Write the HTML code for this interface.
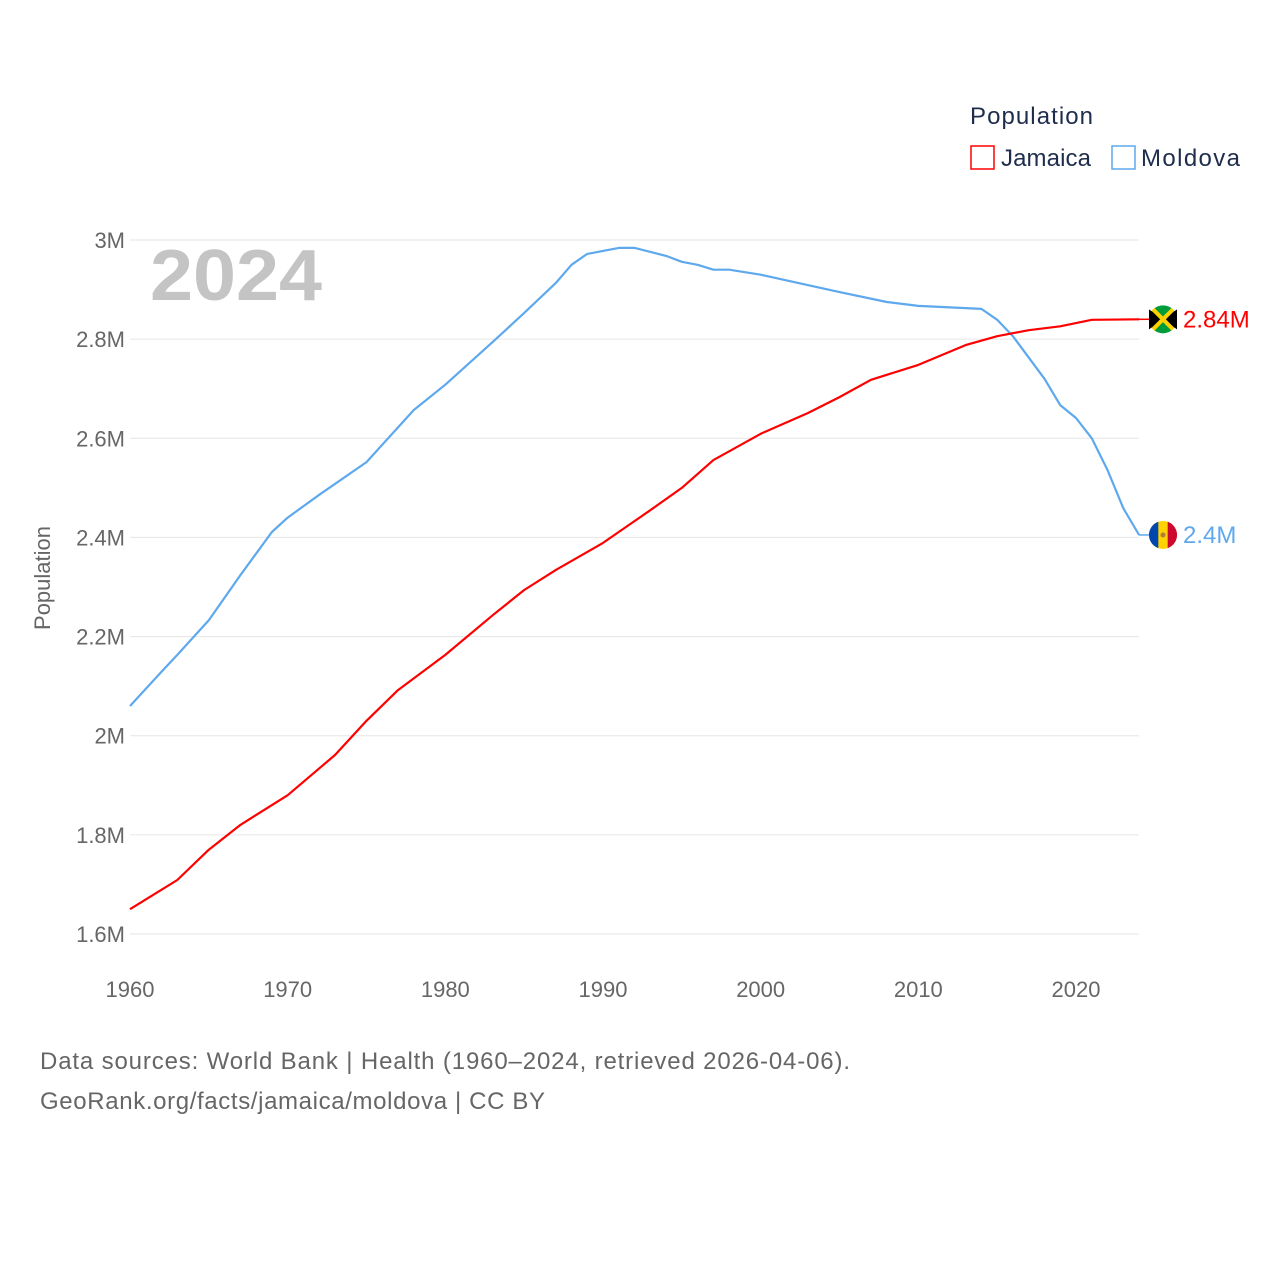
<!DOCTYPE html>
<html><head><meta charset="utf-8"><style>
body{margin:0;background:#fff;font-family:"Liberation Sans",sans-serif}
svg text{font-family:"Liberation Sans",sans-serif}
</style></head><body>
<svg id="chart" width="1280" height="1280" viewBox="0 0 1280 1280">
<g id="grid"></g>
<g id="yticks"></g>
<g id="xticks"></g>
<text x="150" y="300" font-size="72" font-weight="bold" fill="#c4c4c4" textLength="172" lengthAdjust="spacingAndGlyphs">2024</text>
<text transform="translate(50,578) rotate(-90)" text-anchor="middle" font-size="22" fill="#666">Population</text>
<g id="series"></g>
<text x="970" y="124" font-size="24" fill="#1f2d4d" textLength="123">Population</text>
<g><rect x="971" y="146" width="23" height="23" fill="none" stroke="#ff0000" stroke-width="1.5"/><text x="1001" y="166" font-size="24" fill="#1f2d4d" textLength="90">Jamaica</text></g>
<g><rect x="1112" y="146" width="23" height="23" fill="none" stroke="#5ea8ee" stroke-width="1.5"/><text x="1141" y="166" font-size="24" fill="#1f2d4d" textLength="99">Moldova</text></g>
<text x="40" y="1069" font-size="24" fill="#666" textLength="810">Data sources: World Bank | Health (1960–2024, retrieved 2026-04-06).</text>
<text x="40" y="1109" font-size="24" fill="#666" textLength="505">GeoRank.org/facts/jamaica/moldova | CC BY</text>
</svg>
<script>
const jamYears=[1960,1963,1965,1967,1970,1973,1975,1977,1980,1983,1985,1987,1990,1993,1995,1997,2000,2003,2005,2007,2010,2013,2015,2017,2019,2021,2024];
const jamVals=[1.65,1.709,1.77,1.82,1.88,1.961,2.03,2.092,2.163,2.243,2.294,2.334,2.389,2.455,2.50,2.556,2.609,2.651,2.683,2.718,2.748,2.788,2.806,2.818,2.826,2.839,2.84];
const molYears=[1960,1962,1963,1965,1967,1969,1970,1972,1975,1978,1980,1983,1985,1987,1988,1989,1991,1992,1994,1995,1996,1997,1998,2000,2005,2008,2010,2014,2015,2016,2018,2019,2020,2021,2022,2023,2024];
const molVals=[2.06,2.129,2.163,2.233,2.324,2.411,2.44,2.486,2.552,2.657,2.708,2.794,2.853,2.913,2.95,2.972,2.984,2.984,2.968,2.956,2.95,2.94,2.94,2.93,2.895,2.875,2.867,2.861,2.839,2.806,2.72,2.667,2.641,2.60,2.536,2.459,2.405];
const yTicks=[1.6,1.8,2.0,2.2,2.4,2.6,2.8,3.0];
const yLabels=["1.6M","1.8M","2M","2.2M","2.4M","2.6M","2.8M","3M"];
const xTicks=[1960,1970,1980,1990,2000,2010,2020];
const X=y=>130+(y-1960)*(1076-130)/60;
const Y=v=>934-(v-1.6)*(934-240)/1.4;
const NS="http://www.w3.org/2000/svg";
function mk(t,a,p){const e=document.createElementNS(NS,t);for(const k in a)e.setAttribute(k,a[k]);p.appendChild(e);return e;}
const grid=document.getElementById('grid'),yt=document.getElementById('yticks'),xt=document.getElementById('xticks'),ser=document.getElementById('series');
yTicks.forEach((v,i)=>{
 const l=mk('line',{x1:130,x2:1139,y1:Y(v),y2:Y(v),stroke:'#e6e6e6','stroke-width':1},grid);
 
 
 const t=mk('text',{x:125,y:Y(v)+8,'text-anchor':'end','font-size':22,fill:'#666'},yt);t.textContent=yLabels[i];
 
 
});
xTicks.forEach(v=>{
 const t=mk('text',{x:X(v),y:997,'text-anchor':'middle','font-size':22,fill:'#666'},xt);t.textContent=v;
 
 
});
function line(ys,vs,c,name){
 const d=ys.map((y,i)=>(i?'L':'M')+X(y).toFixed(1)+','+Y(vs[i]).toFixed(1)).join('');
 const p=mk('path',{d:d,fill:'none',stroke:c,'stroke-width':2.2,'stroke-linejoin':'round'},ser);
 
 
}
line(molYears,molVals,'#5ea8ee','moldova-line');
line(jamYears,jamVals,'#ff0000','jamaica-line');
function flag(v,c,label,name,kind){
 const y=Y(v),g=mk('g',{},ser);
 
 
 mk('line',{x1:1139,x2:1150,y1:y,y2:y,stroke:c,'stroke-width':1.5},g);
 const cx=1163;
 if(kind==='jm'){
  mk('circle',{cx:cx,cy:y,r:14,fill:'#009b3a'},g);
  mk('path',{d:`M${cx-14},${y-10}L${cx},${y}L${cx-14},${y+10}Z M${cx+14},${y-10}L${cx},${y}L${cx+14},${y+10}Z`,fill:'#000'},g);
  mk('path',{d:`M${cx-10},${y-10}L${cx+10},${y+10}M${cx+10},${y-10}L${cx-10},${y+10}`,stroke:'#fed100','stroke-width':4},g);
 }else{
  mk('circle',{cx:cx,cy:y,r:14,fill:'#ffd200'},g);
  mk('path',{d:`M${cx-4.7},${y-13.2}A14,14 0 0 0 ${cx-4.7},${y+13.2}Z`,fill:'#0046ae'},g);
  mk('path',{d:`M${cx+4.7},${y-13.2}A14,14 0 0 1 ${cx+4.7},${y+13.2}Z`,fill:'#cc092f'},g);
  mk('circle',{cx:cx,cy:y,r:2.5,fill:'#b07e3c'},g);
 }
 const t=mk('text',{x:1183,y:y+8,'font-size':24,fill:c},g);t.textContent=label;
}
flag(jamVals[jamVals.length-1],'#ff0000','2.84M','jamaica-end-label','jm');
flag(molVals[molVals.length-1],'#5ea8ee','2.4M','moldova-end-label','md');
</script>
</body></html>
